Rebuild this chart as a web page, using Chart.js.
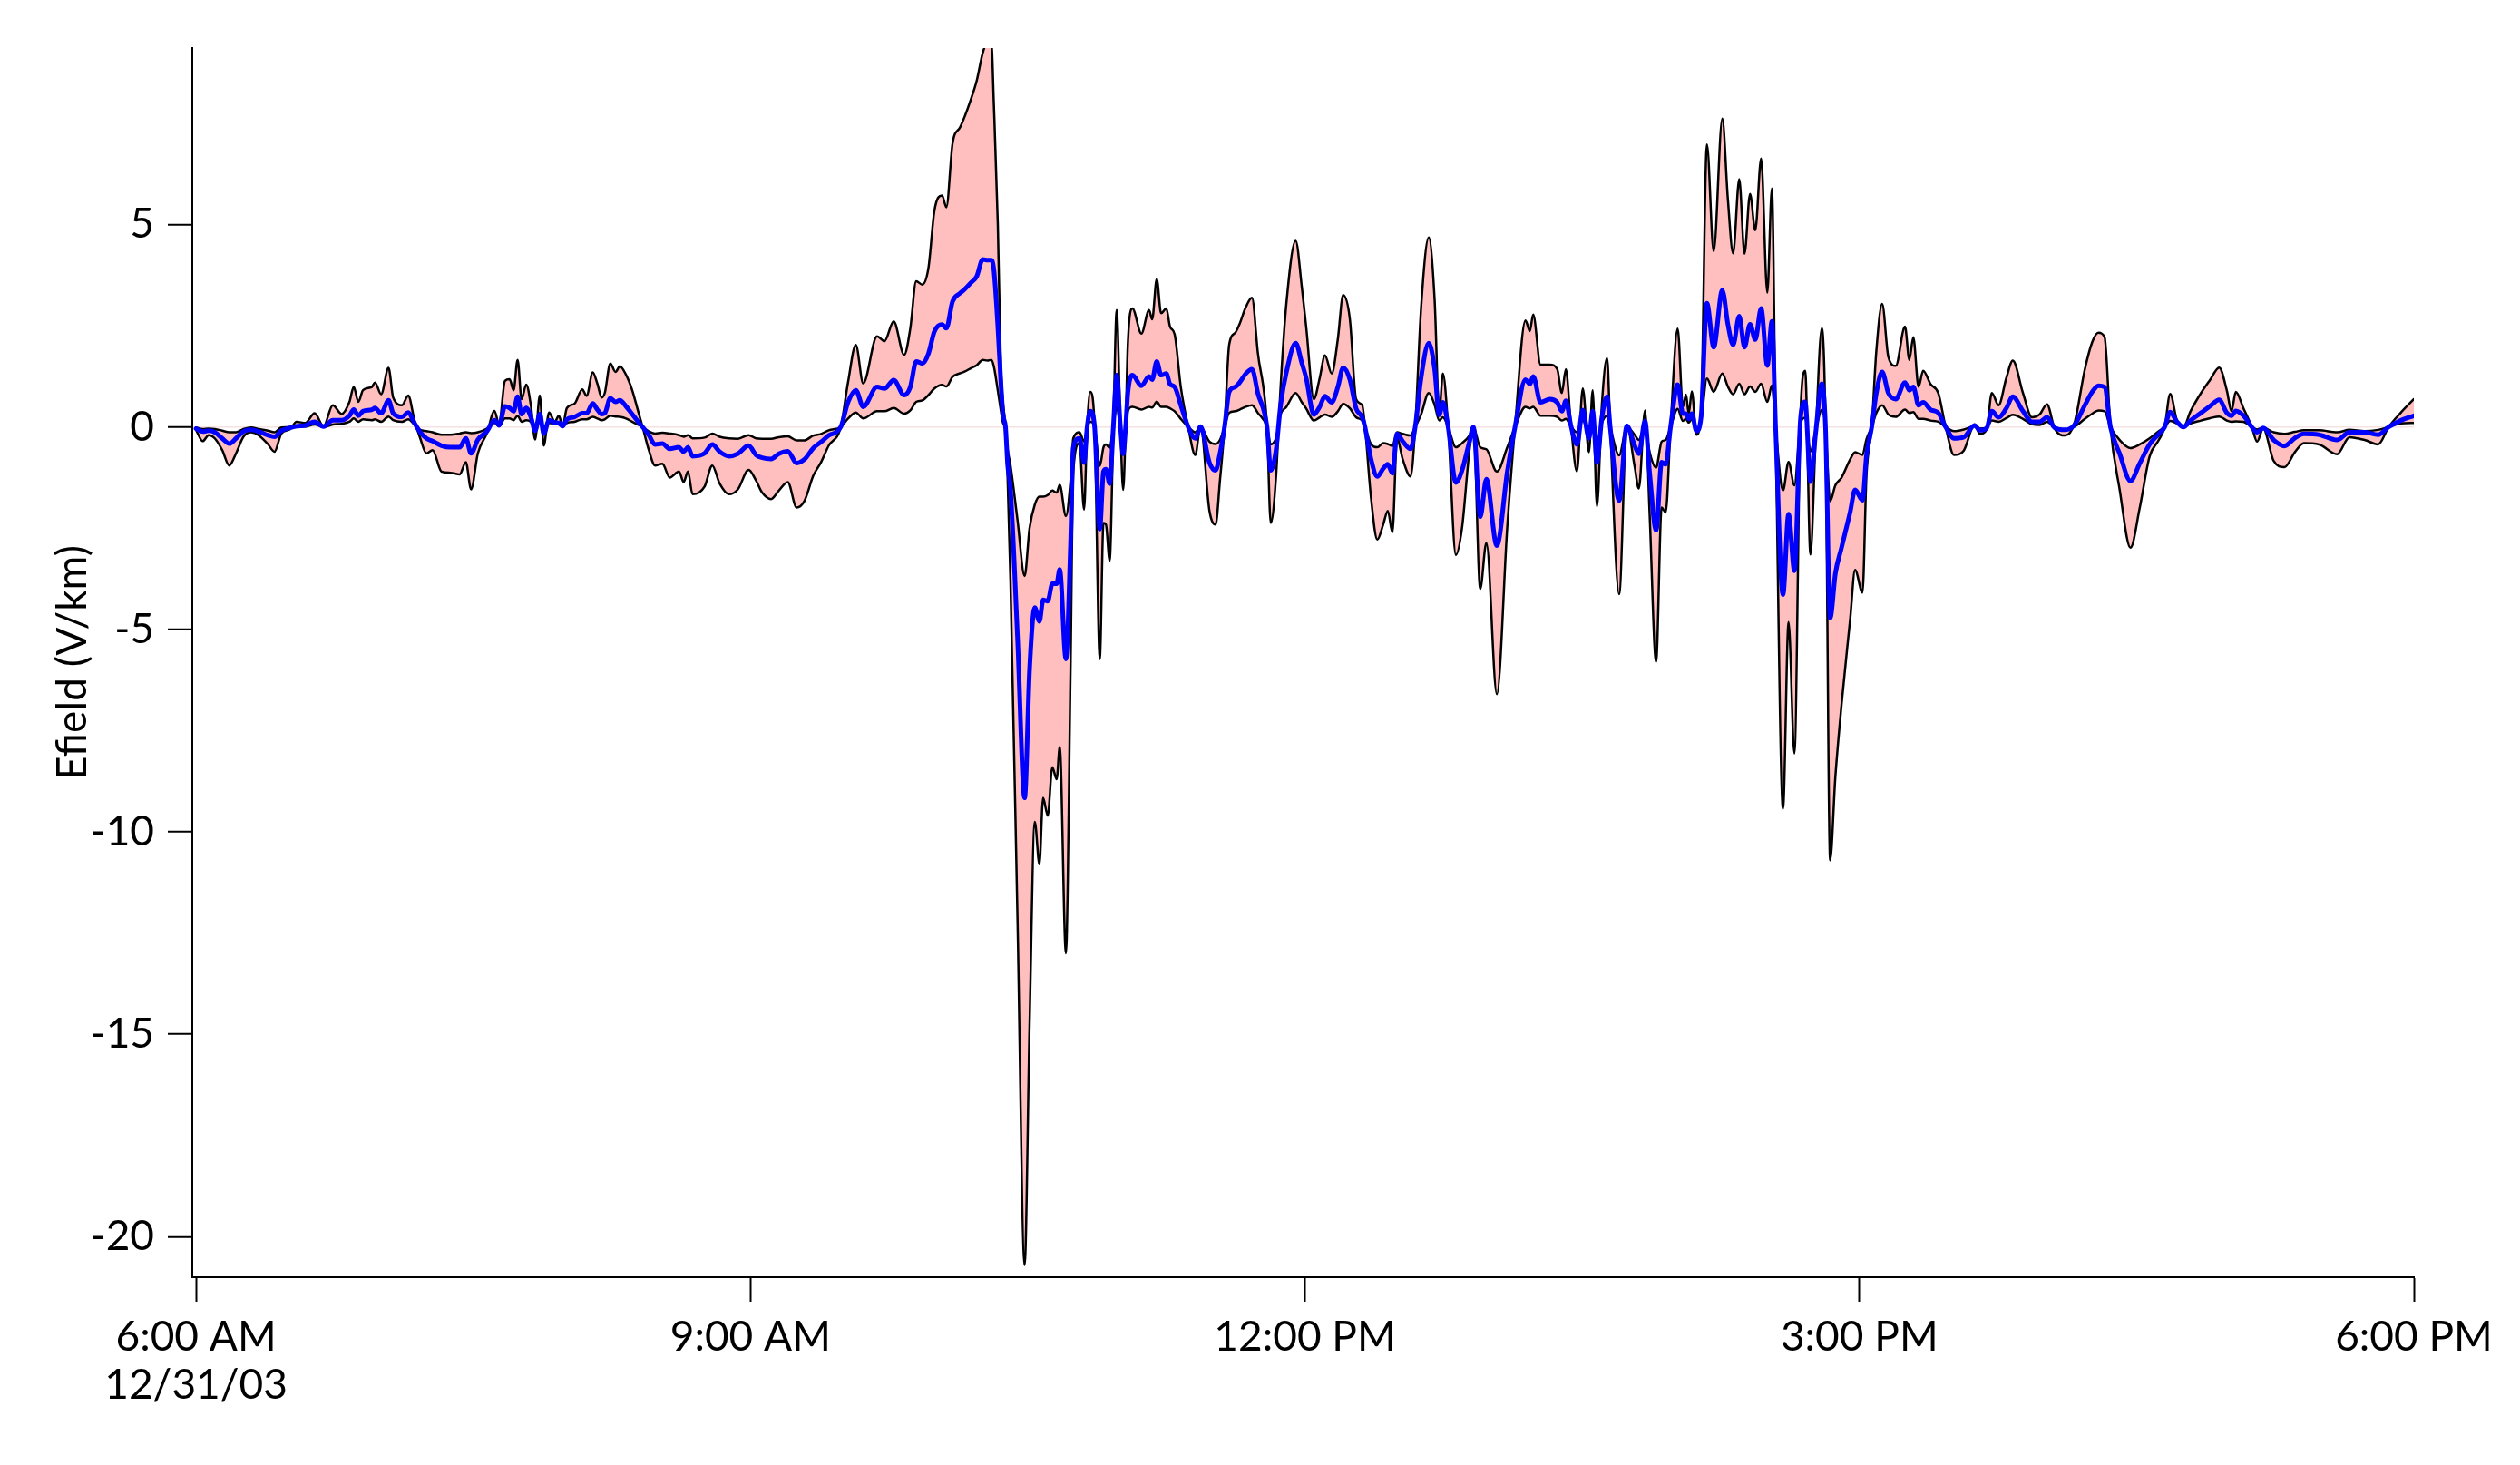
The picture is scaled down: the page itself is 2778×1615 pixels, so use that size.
<!DOCTYPE html>
<html>
<head>
<meta charset="utf-8">
<title>Efield 12/31/03</title>
<script src="https://cdn.jsdelivr.net/npm/chart.js"></script>
<style>
  body { margin: 0; background: #fff; }
</style>
</head>
<body>
<canvas id="chartEfield" width="2778" height="1615"></canvas>
<script>
// waktu dalam menit sejak 6:00 AM (12/31/03)
const minutes = [
  0, 2.2, 4.1, 6.1, 8.5, 10.8, 13.0, 15.4, 17.9, 20.3,
  23.3, 25.5, 27.7, 30.6, 32.6, 35.5, 38.5, 41.4, 44.4, 47.3,
  49.8, 51.2, 52.7, 54.2, 57.1, 58.1, 60.1, 62.5, 64.0, 66.9,
  68.9, 70.9, 72.8, 74.8, 76.8, 79.7, 82.6, 85.6, 87.6, 89.3,
  91.5, 94.4, 96.9, 98.4, 100.3, 101.8, 103.1, 104.4, 105.7, 107.2,
  108.7, 110.1, 111.6, 112.9, 114.6, 116.5, 117.8, 119.0, 120.4, 122.9,
  125.4, 126.8, 128.8, 130.3, 131.7, 132.7, 134.5, 136.2, 137.6, 139.6,
  141.6, 143.5, 145.0, 147.0, 149.0, 151.4, 153.8, 156.8, 158.3, 159.7,
  161.2, 165.1, 167.6, 170.0, 173.0, 175.9, 179.4, 181.8, 183.8, 186.7,
  189.2, 192.1, 195.0, 197.5, 200.4, 202.9, 205.4, 209.3, 211.7, 214.2,
  216.6, 221.1, 223.5, 226.5, 229.9, 231.9, 233.8, 235.8, 237.8, 239.7,
  242.2, 243.6, 245.6, 248.1, 249.5, 251.5, 253.5, 255.4, 256.9, 258.2,
  259.0, 260.3, 261.3, 262.0, 262.8, 263.5, 264.4, 266.7, 269.0, 270.6,
  272.3, 273.8, 275.0, 276.5, 278.0, 279.4, 280.4, 282.4, 283.9, 284.8,
  286.8, 288.3, 289.3, 290.3, 291.7, 293.4, 294.6, 295.4, 296.6, 297.8,
  298.9, 300.1, 301.0, 301.8, 302.5, 304.0, 306.9, 309.4, 310.4, 311.9,
  313.3, 315.0, 316.2, 317.7, 319.7, 322.1, 324.4, 326.1, 329.0, 331.0,
  332.4, 333.9, 335.4, 337.4, 338.8, 340.8, 342.8, 344.7, 347.7, 348.9,
  350.6, 352.1, 354.0, 357.0, 359.0, 360.4, 362.9, 364.8, 366.5, 368.7,
  370.7, 372.4, 374.6, 376.6, 378.6, 379.5, 381.5, 383.5, 385.4, 386.9,
  388.4, 389.9, 391.8, 394.3, 395.8, 397.7, 400.2, 402.1, 403.6, 404.8,
  406.5, 409.0, 411.0, 413.4, 414.7, 416.9, 418.9, 422.3, 425.7, 428.2,
  431.6, 433.0, 434.1, 436.5, 439.5, 441.9, 443.4, 444.7, 446.3, 448.3,
  450.2, 452.2, 453.4, 454.8, 456.4, 458.1, 459.1, 462.0, 464.5, 467.0,
  468.4, 470.4, 471.9, 474.0, 475.8, 477.1, 478.7, 481.0, 482.7, 483.7,
  484.6, 485.6, 487.1, 488.6, 490.5, 492.7, 495.5, 497.3, 499.0, 501.0,
  502.7, 504.5, 506.2, 508.1, 510.1, 511.6, 512.8, 515.2, 517.0, 518.9,
  520.9, 522.4, 524.1, 525.8, 527.8, 529.0, 530.5, 532.2, 534.2, 537.0,
  538.6, 541.0, 542.3, 544.0, 545.5, 547.4, 549.4, 551.8, 554.8, 556.2,
  557.5, 559.2, 560.7, 563.1, 565.6, 568.0, 570.7, 573.9, 577.4, 579.1,
  581.3, 583.0, 585.2, 587.7, 589.8, 593.1, 596.0, 598.5, 600.9, 603.4,
  606.8, 609.8, 613.2, 615.6, 617.6, 619.6, 621.5, 624.5, 628.0, 631.0,
  634.2, 637.2, 639.1, 640.9, 643.1, 645.2, 647.5, 650.9, 653.9, 656.8,
  659.3, 660.8, 662.2, 664.7, 667.4, 669.1, 671.1, 674.5, 678.0, 681.4,
  684.3, 689.2, 695.1, 699.1, 704.0, 708.4, 711.8, 715.7, 720.0
];

// garis hitam luar (magnitudo besar)
const efieldOuter = [
  -0.07, -0.35, -0.2, -0.28, -0.57, -0.95, -0.65, -0.24, -0.13, -0.2,
  -0.42, -0.61, -0.16, -0.05, 0.13, 0.1, 0.34, 0.02, 0.54, 0.32,
  0.62, 0.99, 0.62, 0.91, 0.99, 1.1, 0.81, 1.46, 0.73, 0.54,
  0.78, 0.17, -0.28, -0.65, -0.57, -1.1, -1.13, -1.17, -0.87, -1.54,
  -0.65, -0.16, 0.4, 0.06, 1.14, 1.18, 0.91, 1.66, 0.69, 1.05,
  0.54, -0.31, 0.78, -0.46, 0.36, 0.13, 0.28, 0.02, 0.47, 0.58,
  0.93, 0.77, 1.35, 1.07, 0.73, 0.84, 1.57, 1.36, 1.5, 1.29,
  0.91, 0.4, 0, -0.57, -0.95, -0.91, -1.25, -1.1, -1.36, -1.1,
  -1.66, -1.47, -0.95, -1.4, -1.66, -1.54, -1.06, -1.32, -1.62, -1.78,
  -1.57, -1.36, -1.99, -1.83, -1.2, -0.87, -0.46, 0, 1.12, 2.03,
  1.08, 2.24, 2.12, 2.61, 1.78, 2.44, 3.6, 3.52, 3.94, 5.34,
  5.72, 5.43, 7.0, 7.41, 7.66, 8.08, 8.57, 9.24, 9.5, 9.5,
  8.0, 5.0, 1.5, 0.6, 0, -1.33, -3.78, -12.2, -20.7, -14.8,
  -9.75, -10.8, -9.16, -9.6, -8.4, -8.7, -7.9, -13.0, -6.0, -1.1,
  -0.4, -2.04, 0, 0.87, 0.05, -5.73, -2.37, -2.41, -3.3, 0,
  2.89, 0, -1.55, 0, 2.03, 2.93, 2.31, 2.89, 2.66, 3.66,
  2.81, 2.93, 2.48, 2.29, 0.99, 0, -0.69, 0.02, -2.07, -2.41,
  -1.33, 0, 2.03, 2.33, 2.55, 2.96, 3.19, 1.84, 0, -2.37,
  -1.25, 0.99, 3.07, 4.6, 3.45, 2.48, 0.69, 1.21, 1.77, 1.32,
  2.18, 3.26, 2.66, 0.69, 0.54, 0, -1.78, -2.78, -2.41, -2.07,
  -2.6, -0.28, -0.81, -1.22, 0, 2.93, 4.68, 3.15, 0.35, 1.32,
  0, -3.16, -2.49, -0.58, 0, -4.0, -2.86, -6.6, -2.45, 0,
  2.63, 2.37, 2.78, 1.54, 1.54, 1.43, 0.84, 1.43, 0.1, -1.1,
  0.95, -0.62, 0.91, -1.96, 0.56, 1.7, 0, -4.13, 0.05, -0.96,
  -1.52, 0.41, -2.15, -5.8, -1.99, -2.11, 0, 2.43, 0.5, 0.8,
  0.33, 0.88, -0.19, 0.41, 6.98, 4.34, 7.62, 5.63, 4.29, 6.12,
  4.28, 5.76, 4.86, 6.63, 3.32, 5.89, 0, -9.43, -4.82, -8.06,
  0.36, 1.39, -3.15, -0.28, 2.44, 0, -10.7, -8.64, -6.86, -4.75,
  -3.53, -4.09, -1.2, 0, 1.88, 3.04, 1.73, 1.51, 2.48, 1.66,
  2.22, 0.99, 1.39, 1.06, 0.84, 0, -0.69, -0.58, 0.06, -0.17,
  -0.06, 0.84, 0.54, 1.21, 1.64, 0.84, 0.24, 0.31, 0.56, -0.04,
  -0.21, 0.09, 1.43, 2.1, 2.33, 2.22, 0, -1.55, -2.98, -2.0,
  -0.73, -0.32, 0, 0.82, 0.16, 0, 0.39, 0.84, 1.17, 1.47,
  0.9, 0.39, 0.87, 0.46, 0, -0.36, -0.04, -0.84, -0.99, -0.62,
  -0.4, -0.43, -0.67, -0.25, -0.32, -0.43, 0, 0.35, 0.69
];

// garis biru (rata2)
const efieldMean = [
  -0.04, -0.11, -0.09, -0.13, -0.28, -0.41, -0.28, -0.11, -0.07, -0.11,
  -0.2, -0.24, -0.09, -0.02, 0.02, 0.04, 0.13, 0.01, 0.17, 0.17,
  0.28, 0.43, 0.28, 0.39, 0.43, 0.47, 0.34, 0.66, 0.34, 0.25,
  0.36, 0.1, -0.13, -0.28, -0.35, -0.46, -0.5, -0.5, -0.28, -0.65,
  -0.31, -0.11, 0.17, 0.04, 0.51, 0.47, 0.39, 0.75, 0.32, 0.47,
  0.25, -0.09, 0.32, -0.16, 0.17, 0.11, 0.1, 0.02, 0.19, 0.25,
  0.34, 0.34, 0.58, 0.43, 0.32, 0.34, 0.71, 0.62, 0.66, 0.51,
  0.32, 0.13, 0, -0.2, -0.43, -0.41, -0.54, -0.5, -0.61, -0.5,
  -0.72, -0.65, -0.43, -0.61, -0.72, -0.66, -0.46, -0.69, -0.76, -0.79,
  -0.66, -0.6, -0.89, -0.8, -0.52, -0.37, -0.21, 0, 0.62, 0.91,
  0.5, 0.99, 0.95, 1.16, 0.79, 0.99, 1.62, 1.57, 1.82, 2.36,
  2.53, 2.44, 3.1, 3.31, 3.4, 3.56, 3.73, 4.14, 4.12, 4.12,
  3.9, 2.5, 1.1, 0.3, 0, -0.94, -1.53, -5.2, -9.16, -6.0,
  -4.46, -4.8, -4.27, -4.3, -3.87, -3.87, -3.52, -5.73, -2.9, -0.5,
  -0.28, -0.88, 0, 0.39, 0.02, -2.52, -1.1, -1.04, -1.4, 0,
  1.28, 0, -0.66, 0, 0.84, 1.28, 1.02, 1.25, 1.17, 1.62,
  1.28, 1.32, 1.06, 0.99, 0.54, 0, -0.28, 0.01, -0.88, -1.07,
  -0.66, 0, 0.87, 0.99, 1.1, 1.32, 1.43, 0.84, 0, -1.07,
  -0.58, 0.54, 1.36, 2.07, 1.58, 1.21, 0.31, 0.5, 0.76, 0.61,
  0.99, 1.47, 1.17, 0.46, 0.24, 0, -0.81, -1.22, -1.03, -0.92,
  -1.14, -0.17, -0.36, -0.54, 0, 1.21, 2.07, 1.43, 0.3, 0.61,
  0, -1.37, -1.07, -0.36, 0, -2.22, -1.29, -2.93, -1.1, 0,
  1.17, 1.06, 1.25, 0.61, 0.69, 0.61, 0.39, 0.65, 0.05, -0.43,
  0.42, -0.28, 0.39, -0.88, 0.24, 0.75, 0, -1.82, 0.03, -0.45,
  -0.66, 0.15, -1.13, -2.55, -0.87, -0.92, 0, 1.05, 0.33, 0.33,
  0.2, 0.33, -0.1, 0.24, 3.06, 1.97, 3.38, 2.54, 2.03, 2.74,
  1.97, 2.54, 2.16, 2.93, 1.52, 2.61, 0, -4.14, -2.15, -3.55,
  0.23, 0.62, -1.35, -0.15, 1.07, 0, -4.72, -3.62, -2.98, -2.1,
  -1.55, -1.81, -0.7, 0, 0.84, 1.36, 0.84, 0.69, 1.1, 0.91,
  0.99, 0.54, 0.61, 0.43, 0.35, 0, -0.28, -0.25, 0.04, -0.08,
  -0.03, 0.39, 0.24, 0.46, 0.75, 0.39, 0.13, 0.13, 0.24, -0.02,
  -0.07, 0.05, 0.54, 0.87, 1.02, 0.99, 0, -0.66, -1.33, -0.9,
  -0.43, -0.17, 0, 0.37, 0.13, 0, 0.16, 0.35, 0.52, 0.67,
  0.35, 0.28, 0.4, 0.28, 0, -0.13, -0.02, -0.32, -0.47, -0.27,
  -0.17, -0.19, -0.32, -0.13, -0.13, -0.19, 0, 0.16, 0.28
];

// garis hitam dalam (magnitudo kecil)
const efieldInner = [
  -0.01, -0.05, -0.04, -0.05, -0.09, -0.13, -0.13, -0.05, -0.01, -0.05,
  -0.09, -0.13, -0.01, 0, 0, 0.01, 0.06, 0, 0.06, 0.08,
  0.13, 0.21, 0.13, 0.19, 0.17, 0.19, 0.13, 0.26, 0.17, 0.13,
  0.19, 0.06, -0.07, -0.1, -0.13, -0.19, -0.19, -0.16, -0.13, -0.15,
  -0.13, -0.04, 0.1, 0.02, 0.21, 0.21, 0.17, 0.28, 0.13, 0.17,
  0.13, -0.02, 0.17, -0.01, 0.1, 0.08, 0.06, 0.01, 0.1, 0.13,
  0.19, 0.19, 0.25, 0.21, 0.17, 0.19, 0.28, 0.26, 0.25, 0.21,
  0.13, 0.06, 0, -0.11, -0.16, -0.14, -0.16, -0.2, -0.24, -0.2,
  -0.28, -0.26, -0.16, -0.24, -0.28, -0.29, -0.2, -0.28, -0.29, -0.29,
  -0.25, -0.23, -0.33, -0.33, -0.21, -0.17, -0.08, 0, 0.21, 0.36,
  0.21, 0.39, 0.39, 0.47, 0.33, 0.41, 0.62, 0.66, 0.79, 0.95,
  1.04, 1.0, 1.24, 1.33, 1.37, 1.45, 1.53, 1.66, 1.64, 1.66,
  1.5, 0.9, 0.4, 0.1, 0, -0.55, -0.94, -2.3, -3.68, -2.5,
  -1.92, -1.72, -1.72, -1.68, -1.57, -1.62, -1.43, -2.2, -1.33, -0.28,
  -0.13, -0.36, 0, 0.13, 0.01, -0.96, -0.5, -0.43, -0.51, 0,
  0.5, 0, -0.21, 0, 0.39, 0.5, 0.43, 0.5, 0.48, 0.63,
  0.5, 0.5, 0.46, 0.39, 0.2, 0, -0.13, 0, -0.36, -0.42,
  -0.32, 0, 0.35, 0.39, 0.43, 0.5, 0.54, 0.35, 0, -0.43,
  -0.28, 0.31, 0.5, 0.84, 0.61, 0.46, 0.16, 0.24, 0.31, 0.25,
  0.39, 0.57, 0.46, 0.24, 0.16, 0, -0.43, -0.5, -0.4, -0.42,
  -0.47, -0.13, -0.17, -0.21, 0, 0.31, 0.84, 0.55, 0.16, 0.24,
  0, -0.5, -0.4, -0.21, 0, -0.5, -0.55, -1.1, -0.5, 0,
  0.5, 0.46, 0.5, 0.28, 0.28, 0.25, 0.16, 0.2, 0.02, -0.13,
  0.16, -0.13, 0.16, -0.36, 0.1, 0.28, 0, -0.7, 0.01, -0.19,
  -0.32, 0.03, -0.62, -1.0, -0.36, -0.32, 0, 0.45, 0.15, 0.2,
  0.11, 0.2, -0.05, 0.15, 1.2, 0.87, 1.32, 1.0, 0.81, 1.07,
  0.81, 1.0, 0.87, 1.07, 0.62, 1.03, 0, -1.57, -0.86, -1.44,
  0.1, 0.23, -0.6, -0.09, 0.42, 0, -1.83, -1.44, -1.25, -0.8,
  -0.62, -0.69, -0.3, 0, 0.35, 0.54, 0.31, 0.25, 0.43, 0.35,
  0.37, 0.2, 0.2, 0.16, 0.13, 0, -0.1, -0.06, 0.02, -0.04,
  -0.02, 0.16, 0.13, 0.22, 0.3, 0.2, 0.07, 0.05, 0.13, -0.01,
  -0.06, 0.01, 0.2, 0.33, 0.41, 0.39, 0, -0.32, -0.52, -0.43,
  -0.28, -0.1, 0, 0.15, 0.09, 0, 0.09, 0.16, 0.22, 0.26,
  0.16, 0.13, 0.14, 0.13, 0, -0.06, -0.02, -0.13, -0.17, -0.12,
  -0.08, -0.08, -0.13, -0.07, -0.1, -0.07, 0, 0.09, 0.1
];

// tick sumbu
const xTickMinutes = [0, 180, 360, 540, 720];
const xTickLabels = [['6:00 AM', '12/31/03'], '9:00 AM', '12:00 PM', '3:00 PM', '6:00 PM'];
const yTickValues = [-20, -15, -10, -5, 0, 5];

const toPoints = (arr) => minutes.map((m, i) => ({ x: m, y: arr[i] }));

Chart.defaults.font.family = 'Lato, "DejaVu Sans", sans-serif';
Chart.defaults.color = '#000';

const lineBase = {
  pointRadius: 0,
  cubicInterpolationMode: 'monotone',
  borderJoinStyle: 'round',
  borderCapStyle: 'round'
};

const data = {
  datasets: [
    {
      ...lineBase,
      label: 'outer',
      data: toPoints(efieldOuter),
      borderColor: '#000',
      borderWidth: 2.5,
      backgroundColor: 'rgb(255, 191, 191)',
      fill: '+1',
      order: 2
    },
    {
      ...lineBase,
      label: 'inner',
      data: toPoints(efieldInner),
      borderColor: '#000',
      borderWidth: 2.5,
      fill: false,
      order: 1
    },
    {
      ...lineBase,
      label: 'mean',
      data: toPoints(efieldMean),
      borderColor: 'rgb(0, 0, 255)',
      borderWidth: 5,
      fill: false,
      order: 0
    }
  ]
};

const chartConfig = {
  type: 'line',
  data: data,
  options: {
    responsive: false,
    animation: false,
    layout: {
      padding: { top: 53, right: 117, bottom: 0, left: 0 }
    },
    plugins: {
      legend: { display: false },
      tooltip: { enabled: false },
      filler: { drawTime: 'beforeDatasetsDraw' }
    },
    scales: {
      x: {
        type: 'linear',
        min: -1.2,
        max: 720,
        afterBuildTicks: (scale) => {
          scale.ticks = xTickMinutes.map(v => ({ value: v }));
        },
        afterFit: (scale) => { scale.height = 207; },
        ticks: {
          callback: (v) => xTickLabels[xTickMinutes.indexOf(v)],
          autoSkip: false,
          maxRotation: 0,
          padding: 13,
          font: { size: 46, lineHeight: 1.15 }
        },
        grid: {
          drawOnChartArea: false,
          tickLength: 27,
          tickWidth: 2,
          tickColor: '#000'
        },
        border: { color: '#000', width: 2 }
      },
      y: {
        min: -21,
        max: 9.36,
        afterBuildTicks: (scale) => {
          scale.ticks = yTickValues.map(v => ({ value: v }));
        },
        afterFit: (scale) => { scale.width = 212; },
        ticks: {
          callback: (v) => String(v),
          padding: 15,
          font: { size: 46 }
        },
        grid: {
          // cuma garis nol yang tipis, sisanya ga keliatan
          color: (ctx) => (ctx.tick && ctx.tick.value === 0) ? 'rgb(246, 226, 226)' : 'rgba(0,0,0,0)',
          lineWidth: 1.5,
          tickLength: 27,
          tickWidth: 2,
          tickColor: '#000'
        },
        border: { color: '#000', width: 2 },
        title: {
          display: true,
          text: 'Efield (V/km)',
          font: { size: 46 },
          padding: { top: 53, bottom: 0 }
        }
      }
    }
  }
};

var ctx = document.getElementById('chartEfield');
var efieldChart = new Chart(ctx, chartConfig);
</script>
</body>
</html>
